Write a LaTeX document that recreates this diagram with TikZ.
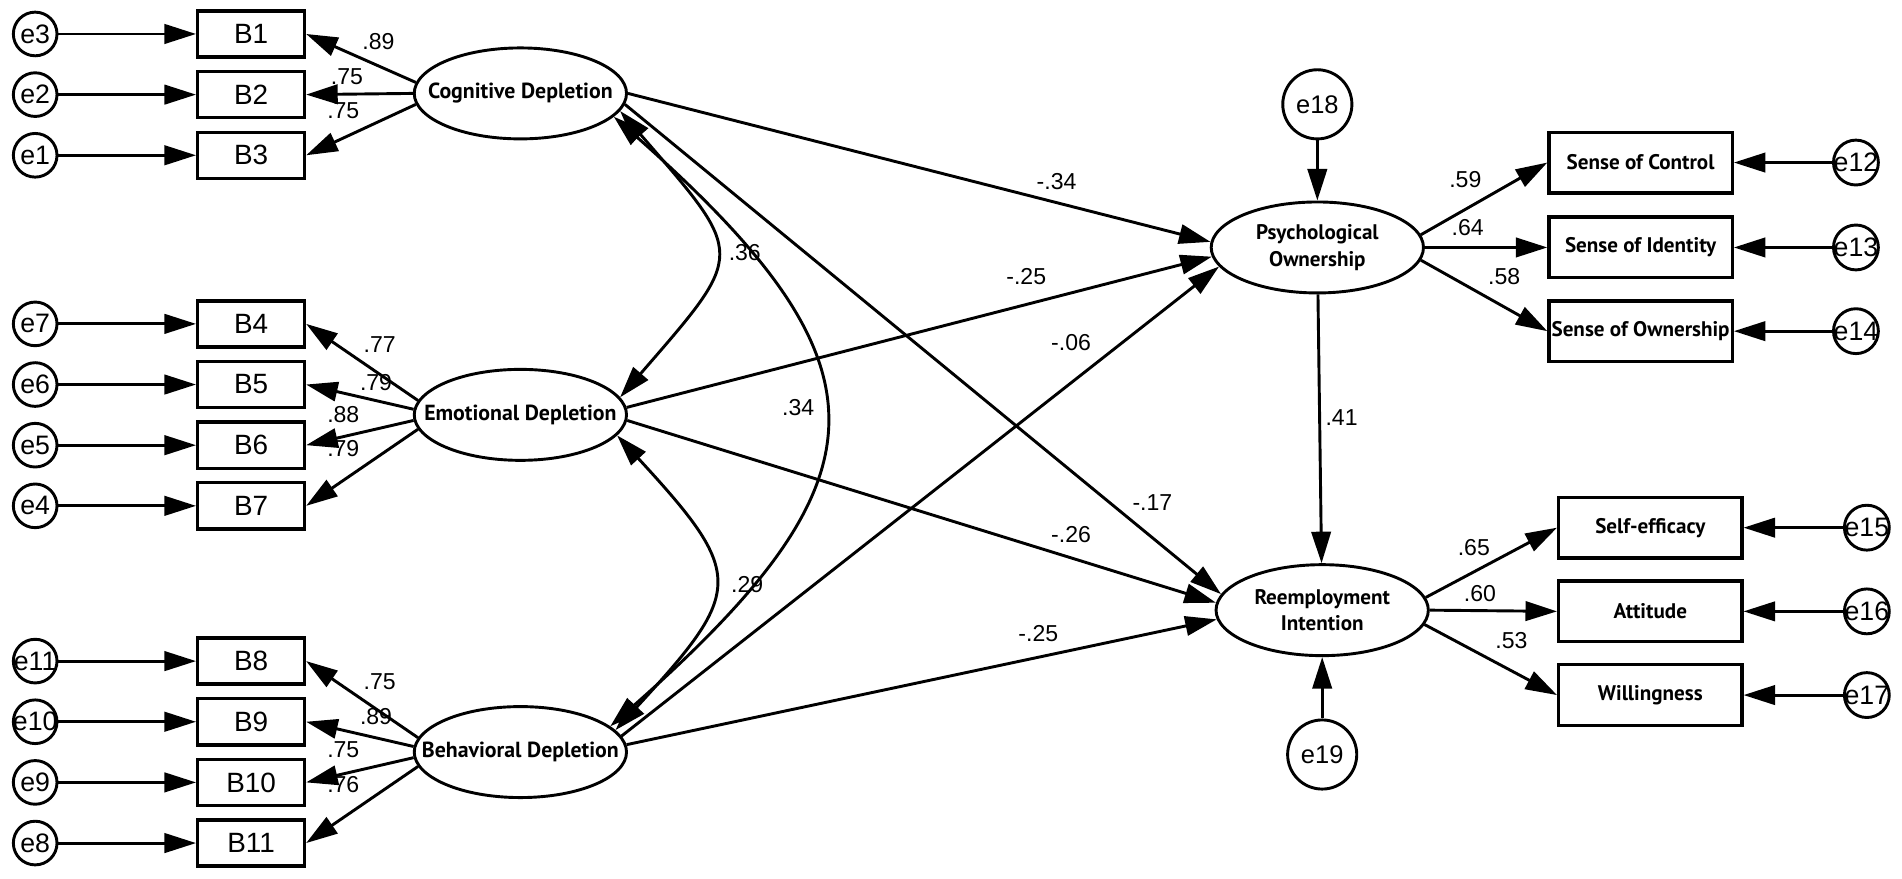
\documentclass[tikz,border=0pt]{standalone}
\usepackage{fontspec}
\setmainfont{Liberation Sans}
\newfontfamily\latfont{PT Sans}
\usetikzlibrary{arrows.meta,shapes.geometric,calc}
\begin{document}
\begin{tikzpicture}[x=0.5pt, y=-0.5pt, line width=1.2pt,
  >={Triangle[length=13pt,width=8pt]},
  errc/.style={circle, draw, minimum size=18pt, inner sep=0pt},
  etxt/.style={font=\fontsize{11}{12}\selectfont, inner sep=0pt},
  obs/.style={rectangle, draw, line width=1.4pt, minimum width=44pt, minimum height=19pt, inner sep=0pt, font=\fontsize{11.5}{12}\selectfont},
  lat/.style={ellipse, draw, minimum width=87.5pt, minimum height=37.5pt, inner sep=0pt},
  lattxt/.style={font=\latfont\bfseries\fontsize{9}{11}\selectfont, inner sep=0pt, align=center},
  rtxt/.style={font=\latfont\bfseries\fontsize{8.7}{11}\selectfont, inner sep=0pt, align=center},
  rbox/.style={rectangle, draw, line width=1.4pt, minimum width=75.5pt, minimum height=25pt, inner sep=0pt, font=\latfont\bfseries\fontsize{8.7}{10}\selectfont},
  bigerr/.style={circle, draw, minimum size=28.5pt, inner sep=0pt, font=\fontsize{10.5}{12}\selectfont},
  rerr/.style={circle, draw, minimum size=18.5pt, inner sep=0pt},
  coef/.style={font=\fontsize{9.5}{10}\selectfont, inner sep=0pt},
  arr/.style={->},
  cov/.style={<->}]

\fill[white] (0,0) rectangle (1568,724);
\useasboundingbox (0,0) rectangle (1568,724);

% left measurement model
\foreach \b/\e/\y in {1/3/28,2/2/78,3/1/128,4/7/267,5/6/317,6/5/367,7/4/417,8/11/545,9/10/595,10/9/645,11/8/695}{
  \node[obs] (b\b) at (207,\y) {B\b};
  \node[errc] (e\e) at (29,\y) {};
  \node[etxt] (et\e) at (e\e) {e\e};
  \draw[arr] (e\e) -- (b\b);
}

% latent exogenous
\node[lat] (cd) at (429,77) {};
\node[lattxt] (cdt) at (cd) {Cognitive Depletion};
\node[lat] (ed) at (429,342) {};
\node[lattxt] (edt) at (ed) {Emotional Depletion};
\node[lat] (bd) at (429,620) {};
\node[lattxt] (bdt) at (bd) {Behavioral Depletion};

\draw[arr] (cd.174) -- (b1.east);
\draw[arr] (cd.180) -- (b2.east);
\draw[arr] (cd.186) -- (b3.east);
\draw[arr] (ed.172) -- (b4.east);
\draw[arr] (ed.177) -- (b5.east);
\draw[arr] (ed.183) -- (b6.east);
\draw[arr] (ed.188) -- (b7.east);
\draw[arr] (bd.172) -- (b8.east);
\draw[arr] (bd.177) -- (b9.east);
\draw[arr] (bd.183) -- (b10.east);
\draw[arr] (bd.188) -- (b11.east);

\node[coef] (l1) at (312,34) {.89};
\node[coef] (l2) at (286,63) {.75};
\node[coef] (l3) at (283,91) {.75};
\node[coef] (l4) at (313,284) {.77};
\node[coef] (l5) at (310,315) {.79};
\node[coef] (l6) at (283,342) {.88};
\node[coef] (l7) at (283,370) {.79};
\node[coef] (l8) at (313,562) {.75};
\node[coef] (l9) at (310,591) {.89};
\node[coef] (l10) at (283,618) {.75};
\node[coef] (l11) at (283,647) {.76};

% endogenous latent
\node[lat] (po) at (1086,204) {};
\node[rtxt] (pot) at (po) {Psychological\\Ownership};
\node[lat] (ri) at (1090,503) {};
\node[rtxt] (rit) at (ri) {Reemployment\\Intention};
\node[bigerr] (e18) at (1086,86) {e18};
\node[bigerr] (e19) at (1090,622) {e19};
\draw[arr] (e18) -- (po);
\draw[arr] (e19) -- (ri);
\draw[arr] (po) -- (ri);
\node[coef] (c41) at (1106,344) {.41};

% right indicators
\node[rbox] (sc) at (1352.5,134) {Sense of Control};
\node[rbox] (si) at (1352.5,204) {Sense of Identity};
\node[rbox] (so) at (1352.5,273) {Sense of Ownership};
\node[rbox] (se) at (1360.5,435) {Self-efficacy};
\node[rbox] (at) at (1360.5,504) {Attitude};
\node[rbox] (wi) at (1360.5,573) {Willingness};
\foreach \n/\x/\y/\t in {12/1530/134/sc,13/1530/204/si,14/1530/273/so,15/1539/435/se,16/1539/504/at,17/1539/573/wi}{
  \node[rerr] (e\n) at (\x,\y) {};
  \node[etxt] (et\n) at (e\n) {e\n};
  \draw[arr] (e\n) -- (\t.east);
}
\draw[arr] (po.7) -- (sc.west);
\draw[arr] (po.east) -- (si.west);
\draw[arr] (po.-7) -- (so.west);
\draw[arr] (ri.7) -- (se.west);
\draw[arr] (ri.east) -- (at.west);
\draw[arr] (ri.-8) -- (wi.west);
\node[coef] (c59) at (1208,148) {.59};
\node[coef] (c64) at (1210,188) {.64};
\node[coef] (c58) at (1240,228) {.58};
\node[coef] (c65) at (1215,451) {.65};
\node[coef] (c60) at (1220,489) {.60};
\node[coef] (c53) at (1246,528) {.53};

% structural paths
\draw[arr] (cd.east) -- (po.177);
\draw[arr] (ed.4) -- (po.185);
\draw[arr] (bd.9) -- (po.191);
\draw[arr] (cd.-6) -- (ri.171);
\draw[arr] (ed.-3) -- (ri.176);
\draw[arr] (bd.4) -- (ri.185);
\node[coef] (s1) at (871,150) {-.34};
\node[coef] (s2) at (846,228) {-.25};
\node[coef] (s3) at (883,282) {-.06};
\node[coef] (s4) at (950,414) {-.17};
\node[coef] (s5) at (883,441) {-.26};
\node[coef] (s6) at (856,522) {-.25};

% covariances
\draw[cov] (cd.-10) .. controls +(104,120) and +(104,-120) .. (ed.10);
\draw[cov] (cd.-14) .. controls +(232,205) and +(232,-205) .. (bd.16);
\draw[cov] (ed.-12) .. controls +(106,115) and +(106,-115) .. (bd.13);
\node[coef] (k1) at (614,208) {.36};
\node[coef] (k2) at (658,336) {.34};
\node[coef] (k3) at (616,482) {.29};
\end{tikzpicture}
\end{document}
